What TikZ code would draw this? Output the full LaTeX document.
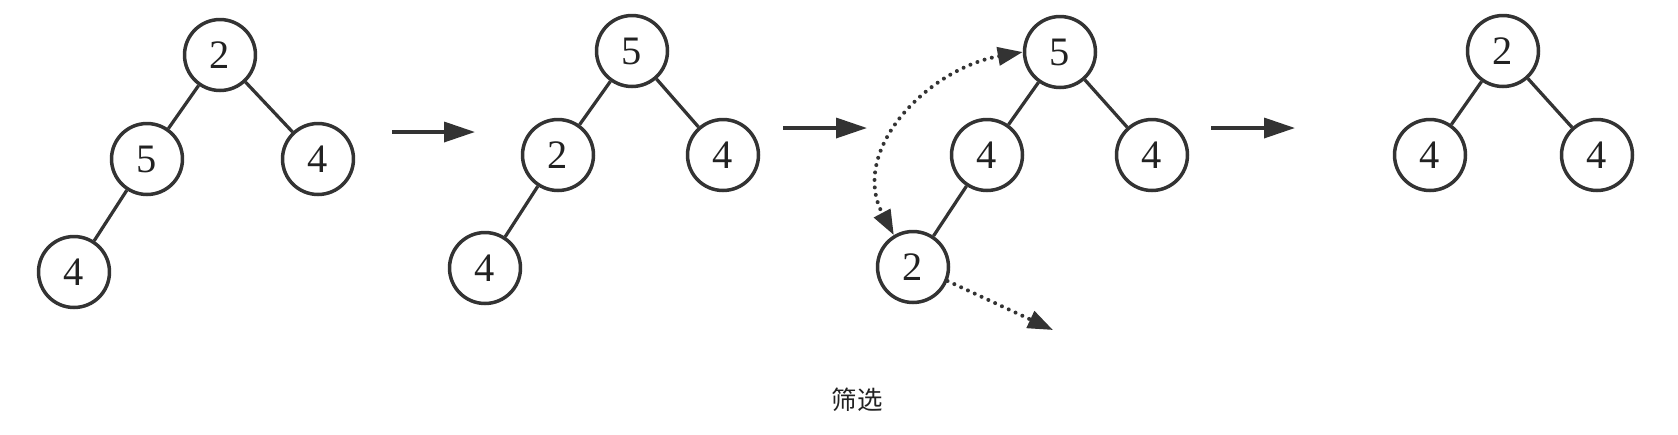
\documentclass[tikz,border=0pt]{standalone}
\usepackage{fontspec}
\setmainfont{Liberation Serif}
\newfontfamily\cjk{Noto Sans CJK SC}
\usepackage{tikz}
\usetikzlibrary{arrows.meta, positioning}
\definecolor{heapline}{HTML}{333333}
\definecolor{heaptext}{HTML}{222222}

\begin{document}
\begin{tikzpicture}[
  x=0.02cm, y=-0.02cm,
  heapnode/.style={circle, draw=heapline, line width=0.07cm, fill=white, minimum size=1.42cm, inner sep=0pt, text=heaptext, font=\fontsize{23}{26}\selectfont},
  link/.style={draw=heapline, line width=0.065cm},
  steparrow/.style={draw=heapline, line width=0.07cm, -{Triangle[length=0.62cm, width=0.4cm]}},
  swaparrow/.style={draw=heapline, line width=0.08cm, line cap=round, dash pattern=on 0pt off 0.15cm, {Triangle[length=0.5cm, width=0.36cm]}-{Triangle[length=0.5cm, width=0.36cm]}},
  outarrow/.style={draw=heapline, line width=0.08cm, line cap=round, dash pattern=on 0pt off 0.15cm, -{Triangle[length=0.5cm, width=0.36cm]}}
]
  \useasboundingbox (0,0) rectangle (1678,434);

  % first heap
  \node[heapnode] (aroot) at (220,55) {2};
  \node[heapnode] (aleft) at (147,159) {5};
  \node[heapnode] (aright) at (318,159) {4};
  \node[heapnode] (aleaf) at (74,272) {4};
  \draw[link] (aroot) -- (aleft);
  \draw[link] (aroot) -- (aright);
  \draw[link] (aleft) -- (aleaf);

  % second heap
  \node[heapnode] (broot) at (632,51) {5};
  \node[heapnode] (bleft) at (558,155) {2};
  \node[heapnode] (bright) at (723,155) {4};
  \node[heapnode] (bleaf) at (485,268) {4};
  \draw[link] (broot) -- (bleft);
  \draw[link] (broot) -- (bright);
  \draw[link] (bleft) -- (bleaf);

  % third heap
  \node[heapnode] (croot) at (1060,52) {5};
  \node[heapnode] (cleft) at (987,155) {4};
  \node[heapnode] (cright) at (1152,155) {4};
  \node[heapnode] (cleaf) at (913,267) {2};
  \draw[link] (croot) -- (cleft);
  \draw[link] (croot) -- (cright);
  \draw[link] (cleft) -- (cleaf);
  \draw[swaparrow] (croot.west) to[out=190, in=118, looseness=1.1] (cleaf.121);
  \coordinate (cdown) at (1053,330);
  \draw[outarrow] (cleaf.-22) -- (cdown);

  % last heap
  \node[heapnode] (droot) at (1503,51) {2};
  \node[heapnode] (dleft) at (1430,155) {4};
  \node[heapnode] (dright) at (1597,155) {4};
  \draw[link] (droot) -- (dleft);
  \draw[link] (droot) -- (dright);

  % steps
  \coordinate (s1) at (392,132);
  \coordinate (e1) at (475,132);
  \coordinate (s2) at (783,128);
  \coordinate (e2) at (867,128);
  \coordinate (s3) at (1211,128);
  \coordinate (e3) at (1295,128);
  \draw[steparrow] (s1) -- (e1);
  \draw[steparrow] (s2) -- (e2);
  \draw[steparrow] (s3) -- (e3);

  \node[font=\cjk\fontsize{14.5}{16}\selectfont, text=heaptext] (caption) at (857,400) {筛选};
\end{tikzpicture}
\end{document}
